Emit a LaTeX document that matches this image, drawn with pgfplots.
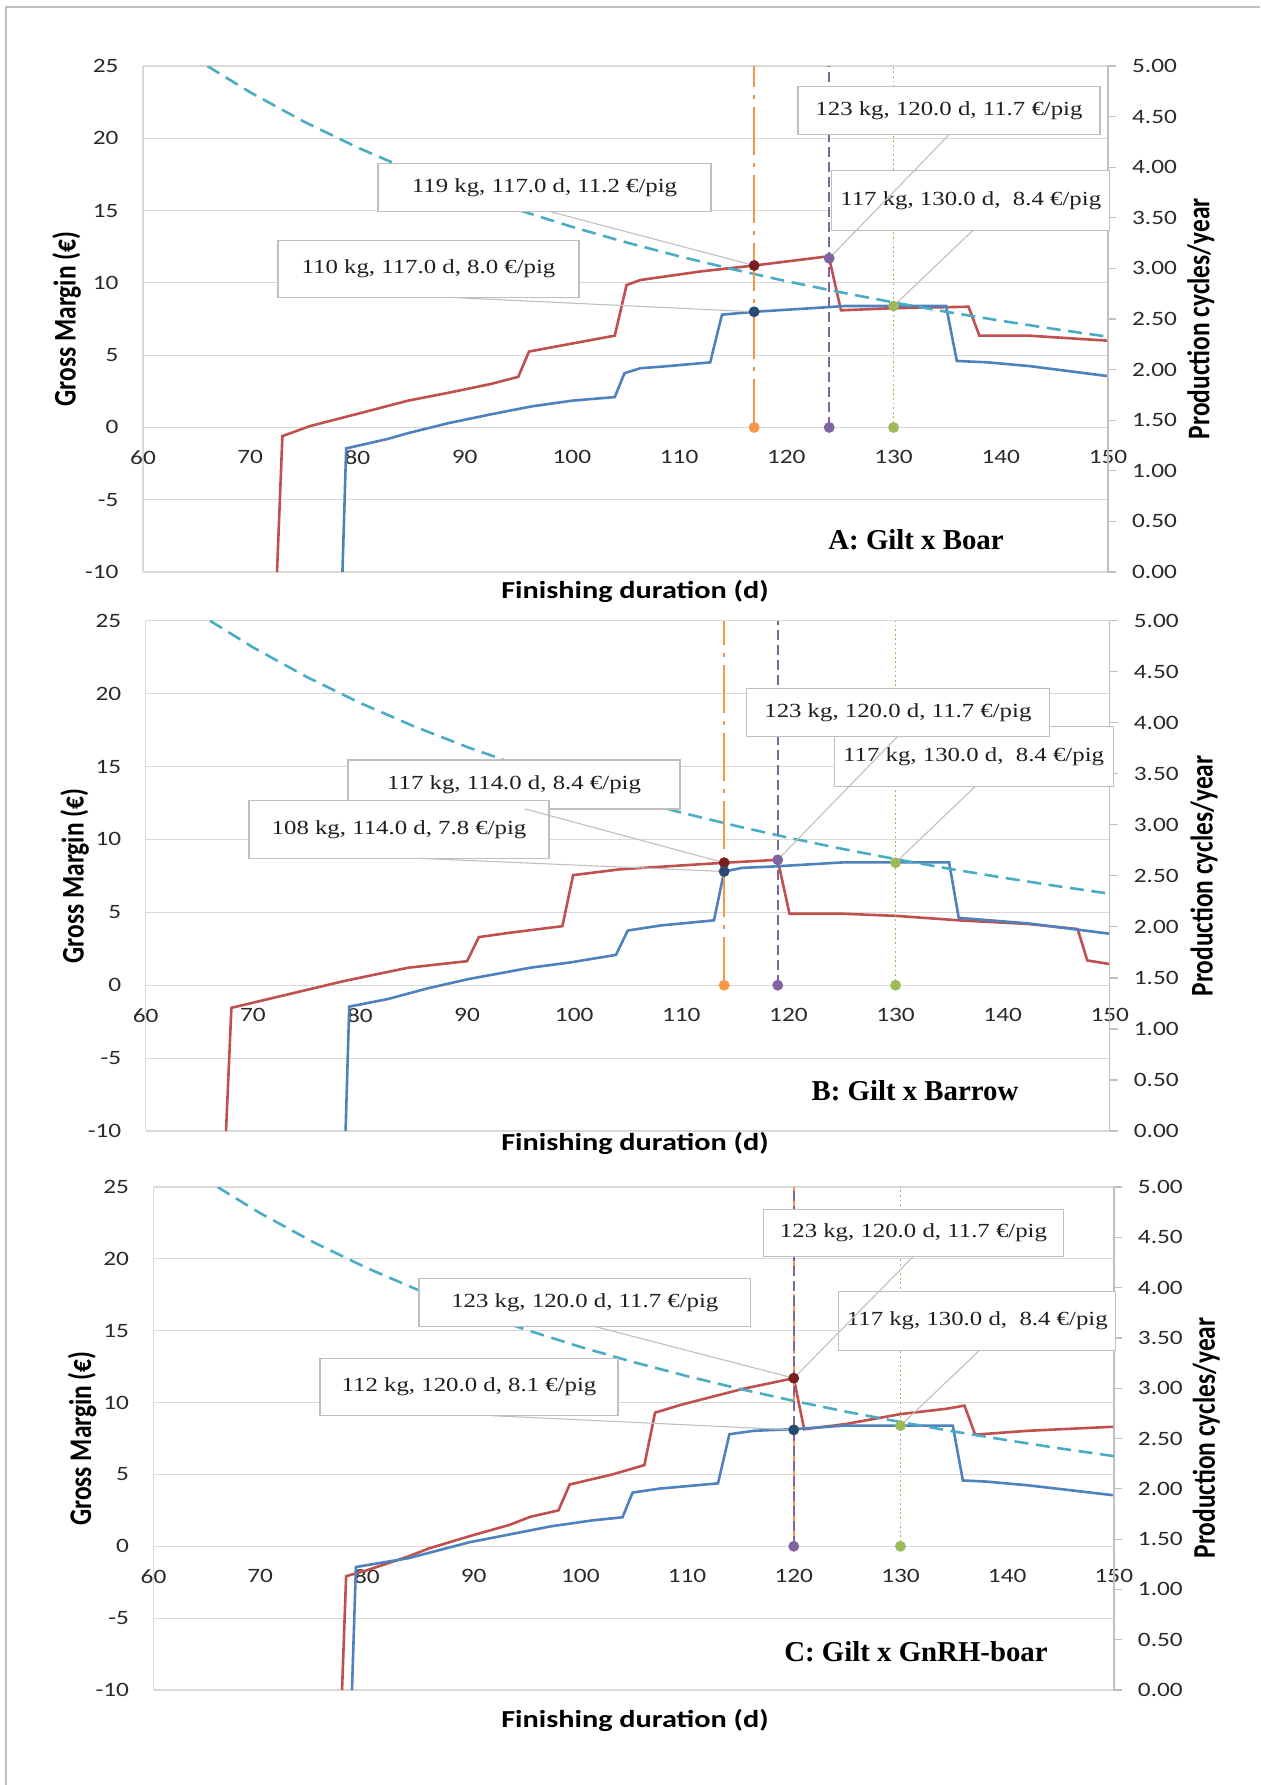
\documentclass[border=0pt]{standalone}
\usepackage{fontspec}
\setmainfont{Carlito}[FakeStretch=1.24]
\newfontfamily\plainsans{Carlito}
\newfontfamily\annfont{Liberation Serif}[FakeStretch=1.24]
\newfontfamily\panelfont{Liberation Serif}
\usepackage{graphicx}
\usepackage{pgfplots}
\pgfplotsset{compat=1.18}

\definecolor{gmred}{HTML}{C0504D}
\definecolor{gmblue}{HTML}{4F81BD}
\definecolor{cyc}{HTML}{4BACC6}
\definecolor{vorange}{HTML}{F79646}
\definecolor{vpurple}{HTML}{8064A2}
\definecolor{vgreen}{HTML}{9BBB59}
\definecolor{dotred}{HTML}{7A1F1F}
\definecolor{dotnavy}{HTML}{2B4A73}
\definecolor{gridc}{HTML}{D9D9D9}
\definecolor{boxc}{HTML}{BFBFBF}
\definecolor{tickc}{HTML}{2A2A2A}

\newcommand{\ticksize}{\fontsize{10.2}{12}\selectfont}
\newcommand{\htitle}[1]{{\bfseries\fontsize{12.2}{14}\selectfont #1}}
\newcommand{\vtitle}[1]{\scalebox{1}[1.24]{\plainsans\bfseries\fontsize{12.7}{14}\selectfont #1}}
\newcommand{\plabel}[1]{{\panelfont\bfseries\fontsize{14.4}{16}\selectfont #1}}

\pgfplotsset{
  gm/.style={scale only axis, xmin=60, xmax=150, ymin=-10, ymax=25,
    xtick={60,70,...,150}, ytick={-10,-5,...,25},
    axis x line*=middle, axis y line*=left, hide obscured x ticks=false,
    ymajorgrids, grid style={gridc, line width=0.6pt},
    axis line style={gridc, line width=0.6pt}, major tick length=0pt,
    /pgf/number format/assume math mode=true,
    tick label style={font=\ticksize, text=tickc},
    yticklabel style={xshift=-8.7pt}, xticklabel style={yshift=-8pt}},
  cycles/.style={scale only axis, xmin=60, xmax=150, ymin=0, ymax=5,
    ytick={0,0.5,...,5}, axis x line=none, axis y line*=right,
    tick align=outside, major tick length=4pt,
    axis line style={boxc, line width=0.6pt}, tick style={boxc, line width=0.6pt},
    /pgf/number format/assume math mode=true,
    tick label style={font=\ticksize, text=tickc},
    yticklabel={\pgfmathprintnumber[fixed,fixed zerofill,precision=2]{\tick}},
    yticklabel style={xshift=4.5pt}},
  marks/.style={scale only axis, xmin=60, xmax=150, ymin=-10, ymax=25, hide axis, clip=false},
}
\tikzset{
  ann/.style={draw=boxc, fill=white, line width=0.6pt, inner sep=0pt, text=black!88,
    font=\annfont\fontsize{10}{12}\selectfont},
  lead/.style={boxc, line width=0.55pt},
  redline/.style={gmred, line width=1.3pt},
  blueline/.style={gmblue, line width=1.3pt},
  cycline/.style={cyc, line width=1.3pt, dash pattern=on 7pt off 3.8pt},
  vor/.style={vorange, line width=1.1pt, dash pattern=on 24pt off 4pt on 2pt off 4pt},
  vpu/.style={vpurple, line width=1.1pt, dash pattern=on 5pt off 2.5pt},
  vgr/.style={vgreen, line width=0.9pt, dash pattern=on 0.9pt off 1.4pt},
  dot/.style={only marks, mark=*, mark size=2.5pt},
}

\begin{document}
\begin{tikzpicture}
\useasboundingbox (0,0) rectangle (630pt,-892.5pt);
\draw[boxc, line width=0.85pt] (3pt,-892.5pt) -- (3pt,-3.65pt) -- (630pt,-3.65pt);

% ---------- A: Gilt x Boar ----------
\begin{axis}[gm, at={(71.5pt,-286pt)}, anchor=south west, width=482.5pt, height=253pt]
\addplot[redline] coordinates {(72.5,-10) (73.0,-0.6) (75.6,0.1) (79.8,0.9) (84.7,1.85) (88.5,2.4)
 (92.4,3.0) (95.0,3.5) (96.0,5.25) (100.0,5.8) (104.0,6.35) (105.1,9.85) (106.4,10.2) (112.1,10.8)
 (117,11.2) (123.5,11.8) (124,11.7) (125.1,8.1) (130,8.25) (137.0,8.35) (138,6.35) (142.6,6.35) (150,6.0)};
\addplot[blueline] coordinates {(78.6,-10) (78.95,-1.45) (82.8,-0.8) (84.7,-0.4) (88.5,0.3) (92.4,0.9)
 (96.2,1.45) (100,1.85) (104,2.1) (104.9,3.75) (106.4,4.1) (108.3,4.2) (112.9,4.5) (114,7.8) (117,8.0)
 (123.5,8.3) (125.4,8.4) (134.9,8.4) (135.9,4.6) (138.8,4.5) (142.6,4.25) (150,3.55)};
\end{axis}
\begin{axis}[cycles, at={(71.5pt,-286pt)}, anchor=south west, width=482.5pt, height=253pt]
\addplot[cycline] coordinates {(66,5.00) (70,4.740) (75,4.451) (80,4.195) (85,3.967) (90,3.763)
 (95,3.578) (100,3.411) (105,3.259) (110,3.120) (115,2.992) (120,2.874) (125,2.765) (130,2.664)
 (135,2.570) (140,2.483) (145,2.401) (150,2.325)};
\end{axis}
\begin{axis}[marks, at={(71.5pt,-286pt)}, anchor=south west, width=482.5pt, height=253pt]
\addplot[vor] coordinates {(117,0) (117,25)};
\addplot[vpu] coordinates {(124,0) (124,25)};
\addplot[vgr] coordinates {(130,0) (130,25)};
\addplot[dot, vorange] coordinates {(117,0)};
\addplot[dot, vpurple] coordinates {(124,0)};
\addplot[dot, vgreen] coordinates {(130,0)};
\node[ann, minimum width=166.5pt, minimum height=24pt] at (axis cs:97.45,16.57) {119 kg, 117.0 d, 11.2 €/pig};
\node[ann, minimum width=150.5pt, minimum height=28.25pt] at (axis cs:86.63,10.95) {110 kg, 117.0 d, 8.0 €/pig};
\node[ann, minimum width=151pt, minimum height=24pt] at (axis cs:135.17,21.9) {123 kg, 120.0 d, 11.7 €/pig};
\node[ann, minimum width=139pt, minimum height=29.75pt] at (axis cs:137.2,15.69) {117 kg, 130.0 d, \ 8.4 €/pig};
\draw[lead] (axis cs:98.06,14.91) -- (axis cs:117,11.2);
\draw[lead] (axis cs:88.54,9.0) -- (axis cs:117,8.0);
\draw[lead] (axis cs:135.17,20.24) -- (axis cs:124,11.7);
\draw[lead] (axis cs:137.4,13.63) -- (axis cs:130,8.4);
\addplot[dot, dotred] coordinates {(117,11.2)};
\addplot[dot, dotnavy] coordinates {(117,8.0)};
\addplot[dot, vpurple] coordinates {(124,11.7)};
\addplot[dot, vgreen] coordinates {(130,8.4)};
\end{axis}
\node at (33.25pt,-159.5pt) {\rotatebox{90}{\vtitle{Gross Margin (€)}}};
\node at (600.4pt,-159.3pt) {\rotatebox{90}{\vtitle{Production cycles/year}}};
\node at (317.5pt,-295.5pt) {\htitle{Finishing duration (d)}};
\node at (458pt,-270pt) {\plabel{A: Gilt x Boar}};

% ---------- B: Gilt x Barrow ----------
\begin{axis}[gm, at={(72.85pt,-565.5pt)}, anchor=south west, width=482.05pt, height=255.15pt]
\addplot[redline] coordinates {(67.5,-10) (68.0,-1.55) (78.6,0.3) (84.5,1.2) (90,1.65) (91.1,3.3)
 (94,3.6) (98.9,4.05) (99.9,7.55) (104.3,7.95) (114,8.4) (119,8.6) (120.1,4.9) (125.2,4.9)
 (130.2,4.75) (135.9,4.45) (142.4,4.2) (147.0,3.85) (147.9,1.7) (150,1.45)};
\addplot[blueline] coordinates {(78.66,-10) (79.0,-1.47) (82.6,-0.95) (86.4,-0.2) (90.2,0.43)
 (95.9,1.2) (99.7,1.57) (103.9,2.08) (105.0,3.75) (108.1,4.1) (113.05,4.45) (114,7.8) (115.7,8.05)
 (118.8,8.15) (125.2,8.43) (135,8.43) (135.9,4.62) (142.4,4.24) (150,3.53)};
\end{axis}
\begin{axis}[cycles, at={(72.85pt,-565.5pt)}, anchor=south west, width=482.05pt, height=255.15pt]
\addplot[cycline] coordinates {(66,5.00) (70,4.740) (75,4.451) (80,4.195) (85,3.967) (90,3.763)
 (95,3.578) (100,3.411) (105,3.259) (110,3.120) (115,2.992) (120,2.874) (125,2.765) (130,2.664)
 (135,2.570) (140,2.483) (145,2.401) (150,2.325)};
\end{axis}
\begin{axis}[marks, at={(72.85pt,-565.5pt)}, anchor=south west, width=482.05pt, height=255.15pt]
\addplot[vor] coordinates {(114,0) (114,25)};
\addplot[vpu] coordinates {(119,0) (119,25)};
\addplot[vgr] coordinates {(130,0) (130,25)};
\addplot[dot, vorange] coordinates {(114,0)};
\addplot[dot, vpurple] coordinates {(119,0)};
\addplot[dot, vgreen] coordinates {(130,0)};
\node[ann, minimum width=166pt, minimum height=24.5pt] at (axis cs:94.39,13.77) {117 kg, 114.0 d, 8.4 €/pig};
\node[ann, minimum width=150pt, minimum height=29pt] at (axis cs:83.65,10.69) {108 kg, 114.0 d, 7.8 €/pig};
\node[ann, minimum width=139.5pt, minimum height=30pt] at (axis cs:137.29,15.69) {117 kg, 130.0 d, \ 8.4 €/pig};
\node[ann, minimum width=151.25pt, minimum height=24pt] at (axis cs:130.22,18.71) {123 kg, 120.0 d, 11.7 €/pig};
\draw[lead] (axis cs:95.37,12.1) -- (axis cs:114,8.4);
\draw[lead] (axis cs:85.61,8.7) -- (axis cs:114,7.8);
\draw[lead] (axis cs:130.2,17.07) -- (axis cs:119,8.6);
\draw[lead] (axis cs:137.43,13.63) -- (axis cs:130,8.4);
\addplot[dot, dotred] coordinates {(114,8.4)};
\addplot[dot, dotnavy] coordinates {(114,7.8)};
\addplot[dot, vpurple] coordinates {(119,8.6)};
\addplot[dot, vgreen] coordinates {(130,8.4)};
\end{axis}
\node at (37.25pt,-438pt) {\rotatebox{90}{\vtitle{Gross Margin (€)}}};
\node at (602pt,-438pt) {\rotatebox{90}{\vtitle{Production cycles/year}}};
\node at (317.5pt,-571.5pt) {\htitle{Finishing duration (d)}};
\node at (457.5pt,-545.25pt) {\plabel{B: Gilt x Barrow}};

% ---------- C: Gilt x GnRH-boar ----------
\begin{axis}[gm, at={(76.75pt,-845pt)}, anchor=south west, width=480.2pt, height=251.5pt]
\addplot[redline] coordinates {(77.67,-10) (78.05,-2.08) (80.04,-1.66) (83.9,-0.7) (85.8,-0.15)
 (89.6,0.7) (93.4,1.5) (95.3,2.05) (97.95,2.5) (99.0,4.3) (103,5.0) (106.0,5.65) (107.0,9.3)
 (109.45,9.85) (115.2,10.95) (120,11.7) (120.97,8.15) (124.8,8.5) (130,9.2) (134.3,9.57) (136,9.79)
 (137,7.77) (142,8.04) (150,8.32)};
\addplot[blueline] coordinates {(78.6,-10) (78.97,-1.44) (83.87,-0.83) (89.6,0.28) (93.4,0.83)
 (97.25,1.39) (101.1,1.8) (103.95,2.02) (104.9,3.74) (107.5,4.02) (112.9,4.38) (113.97,7.8)
 (116.3,8.04) (120,8.15) (124.8,8.4) (134.9,8.4) (135.85,4.58) (138.1,4.5) (142,4.24) (150,3.55)};
\end{axis}
\begin{axis}[cycles, at={(76.75pt,-845pt)}, anchor=south west, width=480.2pt, height=251.5pt]
\addplot[cycline] coordinates {(66,5.00) (70,4.740) (75,4.451) (80,4.195) (85,3.967) (90,3.763)
 (95,3.578) (100,3.411) (105,3.259) (110,3.120) (115,2.992) (120,2.874) (125,2.765) (130,2.664)
 (135,2.570) (140,2.483) (145,2.401) (150,2.325)};
\end{axis}
\begin{axis}[marks, at={(76.75pt,-845pt)}, anchor=south west, width=480.2pt, height=251.5pt]
\addplot[vor] coordinates {(120,0) (120,25)};
\addplot[vpu] coordinates {(120,0) (120,25)};
\addplot[vgr] coordinates {(130,0) (130,25)};
\addplot[dot, vpurple] coordinates {(120,0)};
\addplot[dot, vgreen] coordinates {(130,0)};
\node[ann, minimum width=165.8pt, minimum height=23.9pt] at (axis cs:100.42,16.97) {123 kg, 120.0 d, 11.7 €/pig};
\node[ann, minimum width=149pt, minimum height=28.5pt] at (axis cs:89.57,11.07) {112 kg, 120.0 d, 8.1 €/pig};
\node[ann, minimum width=150.35pt, minimum height=23.5pt] at (axis cs:131.22,21.79) {123 kg, 120.0 d, 11.7 €/pig};
\node[ann, minimum width=138.5pt, minimum height=29.75pt] at (axis cs:137.2,15.68) {117 kg, 130.0 d, \ 8.4 €/pig};
\draw[lead] (axis cs:101.28,15.31) -- (axis cs:120,11.7);
\draw[lead] (axis cs:91.72,9.09) -- (axis cs:120,8.1);
\draw[lead] (axis cs:131.18,20.15) -- (axis cs:120,11.7);
\draw[lead] (axis cs:137.37,13.61) -- (axis cs:130,8.4);
\addplot[dot, dotred] coordinates {(120,11.7)};
\addplot[dot, dotnavy] coordinates {(120,8.1)};
\addplot[dot, vgreen] coordinates {(130,8.4)};
\end{axis}
\node at (41pt,-719.25pt) {\rotatebox{90}{\vtitle{Gross Margin (€)}}};
\node at (603.1pt,-719pt) {\rotatebox{90}{\vtitle{Production cycles/year}}};
\node at (317.5pt,-860pt) {\htitle{Finishing duration (d)}};
\node at (458pt,-826pt) {\plabel{C: Gilt x GnRH-boar}};
\end{tikzpicture}
\end{document}
